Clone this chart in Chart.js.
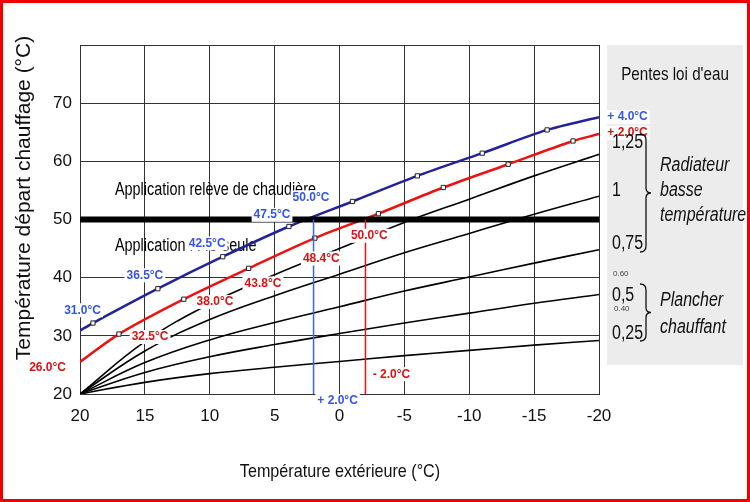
<!DOCTYPE html>
<html><head><meta charset="utf-8">
<script src="https://cdn.jsdelivr.net/npm/chart.js@4"></script>
<style>body{margin:0;background:#fff}canvas{display:block}</style>
</head><body><canvas id="c" width="750" height="502"></canvas>
<script>
const xGrid = [20,15,10,5,0,-5,-10,-15,-20];
const slope125 = [20,29,35.5,40.5,45,49.5,53.5,57.5,61.2];
const slope100 = [20,27.4,32.8,36.9,40.6,44.3,47.6,50.9,54];
const slope075 = [20,25.4,29.3,32.3,35,37.7,40.1,42.5,44.8];
const slope050 = [20,23.7,26.4,28.5,30.4,32.2,33.9,35.6,37.1];
const slope025 = [20,22,23.5,24.6,25.6,26.6,27.5,28.4,29.2];
const redX = [20,17,12,7,1.9,-3,-8,-13,-18,-20];
const redY = [25.5,30.3,36.3,41.6,46.8,51,55.5,59.5,63.5,64.7];
const blueX = [20,19,14,9,3.9,-1,-6,-11,-16,-20];
const blueY = [30.9,32.2,38.1,43.6,48.8,53.1,57.5,61.4,65.4,67.6];
const limitY = 50;
const blueCutX = 2, redCutX = -2;
const blueLabels = [["31.0°C",19.8,34.4],["36.5°C",15,40.4],["42.5°C",10.2,45.9],["47.5°C",5.2,50.8],["50.0°C",2.2,53.8],["+ 2.0°C",0.15,18.8],["+ 4.0°C",-22.2,67.6]];
const redLabels = [["26.0°C",22.5,24.5],["32.5°C",14.6,29.8],["38.0°C",9.6,35.8],["43.8°C",5.9,39.0],["48.4°C",1.4,43.3],["50.0°C",-2.3,47.2],["- 2.0°C",-4,23.4],["+ 2.0°C",-22.2,64.9]];

const FONT = "'Liberation Sans',Arial,sans-serif";
const pts = (xs,ys)=>xs.map((x,i)=>({x,y:ys[i]}));
const black = ys => ({data:pts(xGrid,ys),borderColor:'#000',borderWidth:1.6,pointRadius:0,tension:0.4,fill:false});
const endless = n => Array.from({length:n},(_,i)=>(i===0||i===n-1)?0:3);
function narrow(c,t,x,y,font,align,sx){c.save();c.font=font;c.textAlign=align||'left';c.translate(x,y);c.scale(sx||0.8,1);c.fillText(t,0,0);c.restore();}

const deco = {
  id:'deco',
  beforeDatasetsDraw(ch){
    const c=ch.ctx;
    c.save();
    c.fillStyle='#ececec';c.fillRect(607,45,136,320);
    c.fillStyle='#000';c.textBaseline='middle';
    narrow(c,'Application relève de chaudière',115,190,'18px '+FONT);
    narrow(c,'Application PAC seule',115,246,'18px '+FONT);
    c.restore();
  },
  afterDatasetsDraw(ch){
    const c=ch.ctx,x=ch.scales.x,y=ch.scales.y;
    c.save();
    c.strokeStyle='#000';c.lineWidth=6;
    c.beginPath();c.moveTo(x.getPixelForValue(20),y.getPixelForValue(limitY));c.lineTo(x.getPixelForValue(-20),y.getPixelForValue(limitY));c.stroke();
    c.lineWidth=1.5;
    c.strokeStyle='#3366ff';c.beginPath();c.moveTo(x.getPixelForValue(blueCutX),y.getPixelForValue(20));c.lineTo(x.getPixelForValue(blueCutX),y.getPixelForValue(limitY));c.stroke();
    c.strokeStyle='#ee1111';c.beginPath();c.moveTo(x.getPixelForValue(redCutX),y.getPixelForValue(20));c.lineTo(x.getPixelForValue(redCutX),y.getPixelForValue(limitY));c.stroke();
    c.font='bold 12px '+FONT;c.textAlign='center';c.textBaseline='middle';
    const lab=(arr,col)=>arr.forEach(([t,vx,vy])=>{const px=x.getPixelForValue(vx),py=y.getPixelForValue(vy);const w=c.measureText(t).width;c.fillStyle='#fff';c.fillRect(px-w/2-2,py-7,w+4,14);c.fillStyle=col;c.fillText(t,px,py);});
    lab(blueLabels,'#3355ee');lab(redLabels,'#dd1111');
    c.fillStyle='#111';
    narrow(c,'Température extérieure (°C)',340,472,'19px '+FONT,'center',0.85);
    c.save();c.translate(24,198);c.rotate(-Math.PI/2);c.font='21px '+FONT;c.textAlign='center';c.fillText('Température départ chauffage (°C)',0,0);c.restore();
    narrow(c,"Pentes loi d'eau",675,75,'19px '+FONT,'center');
    [['1,25',142],['1',190],['0,75',243],['0,5',295],['0,25',333]].forEach(([t,py])=>narrow(c,t,612,py,'20px '+FONT));
    c.font='8px '+FONT;c.fillStyle='#444';c.textAlign='left';c.fillText('0.60',613,274);c.fillText('0.40',614,309);
    c.fillStyle='#111';
    [['Radiateur',165],['basse',190],['température',215],['Plancher',300],['chauffant',327]].forEach(([t,py])=>narrow(c,t,660,py,'italic 20px '+FONT));
    const brace=(bx,t,b)=>{const m=(t+b)/2;c.beginPath();c.moveTo(bx-3,t);c.quadraticCurveTo(bx+3,t,bx+3,t+6);c.lineTo(bx+3,m-5);c.quadraticCurveTo(bx+3,m,bx+8,m);c.quadraticCurveTo(bx+3,m,bx+3,m+5);c.lineTo(bx+3,b-6);c.quadraticCurveTo(bx+3,b,bx-3,b);c.stroke();};
    c.strokeStyle='#111';c.lineWidth=1.3;brace(643,134,252);brace(643,284,341);
    c.strokeStyle='#ee0000';c.lineWidth=3;c.strokeRect(1.5,1.5,747,499);
    c.restore();
  }
};

new Chart(document.getElementById('c'),{
  type:'line',
  data:{datasets:[
    black(slope125),black(slope100),black(slope075),black(slope050),black(slope025),
    {data:pts(redX,redY),borderColor:'#ee1111',borderWidth:2.5,tension:0.3,pointStyle:'rect',pointRadius:endless(redX.length),pointBackgroundColor:'#fff',pointBorderColor:'#222',pointBorderWidth:1},
    {data:pts(blueX,blueY),borderColor:'#22229a',borderWidth:2.5,tension:0.3,pointStyle:'rect',pointRadius:endless(blueX.length),pointBackgroundColor:'#fff',pointBorderColor:'#222',pointBorderWidth:1}
  ]},
  options:{
    responsive:false,animation:false,
    layout:{padding:{left:0,top:45,right:151,bottom:0}},
    plugins:{legend:{display:false},tooltip:{enabled:false}},
    scales:{
      x:{type:'linear',reverse:true,min:-20,max:20,
        ticks:{stepSize:5,color:'#111',font:{size:17,family:FONT},padding:12},
        grid:{color:'#333',lineWidth:1,drawTicks:false},border:{color:'#333'},
        afterFit:s=>{s.height=108;}},
      y:{min:20,max:80,
        ticks:{stepSize:10,color:'#111',font:{size:17,family:FONT},padding:8,callback:v=>v===80?'':v},
        grid:{color:'#333',lineWidth:1,drawTicks:false},border:{color:'#333'},
        afterFit:s=>{s.width=80;}}
    }
  },
  plugins:[deco]
});
</script></body></html>
